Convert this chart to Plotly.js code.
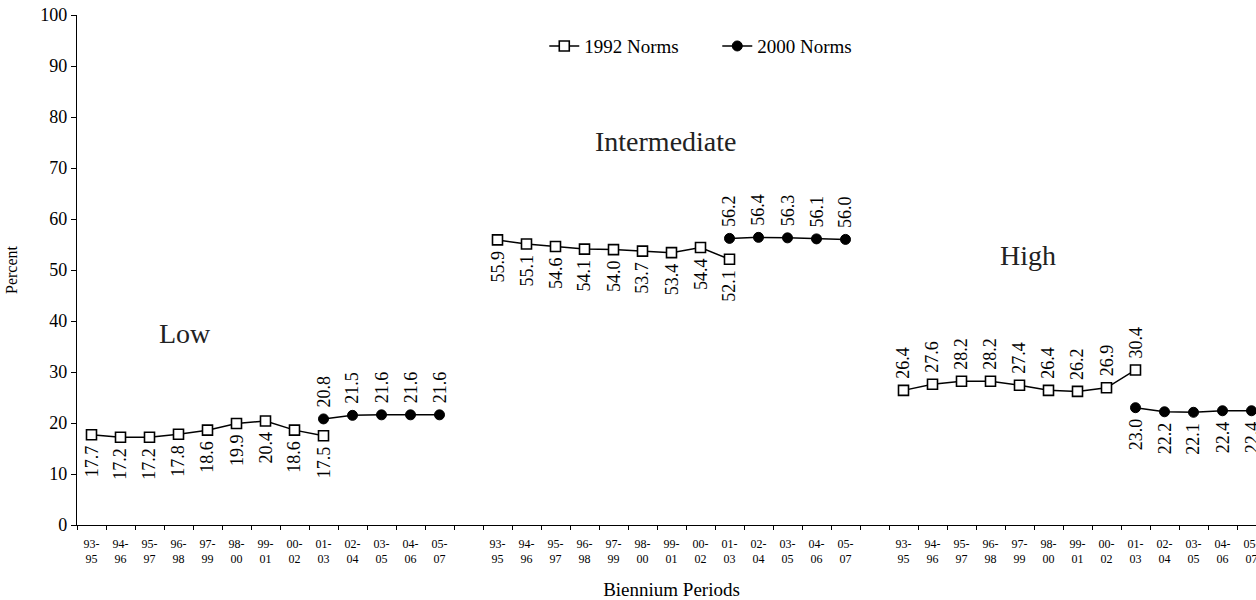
<!DOCTYPE html>
<html>
<head>
<meta charset="utf-8">
<script src="https://cdn.plot.ly/plotly-3.0.1.min.js"></script>
<style>
html, body { margin: 0; padding: 0; overflow: hidden; background: #fff; }
#chart { width: 1275px; height: 600px; }
</style>
</head>
<body>
<div id="chart"></div>
<script>
// ---- data ----
const periods = ["93-95","94-96","95-97","96-98","97-99","98-00","99-01","00-02","01-03","02-04","03-05","04-06","05-07"];
const groups = ["Low","Intermediate","High"];
const norms1992Periods = ["93-95","94-96","95-97","96-98","97-99","98-00","99-01","00-02","01-03"];
const norms2000Periods = ["01-03","02-04","03-05","04-06","05-07"];

const low1992 = [17.7, 17.2, 17.2, 17.8, 18.6, 19.9, 20.4, 18.6, 17.5];
const low2000 = [20.8, 21.5, 21.6, 21.6, 21.6];
const inter1992 = [55.9, 55.1, 54.6, 54.1, 54.0, 53.7, 53.4, 54.4, 52.1];
const inter2000 = [56.2, 56.4, 56.3, 56.1, 56.0];
const high1992 = [26.4, 27.6, 28.2, 28.2, 27.4, 26.4, 26.2, 26.9, 30.4];
const high2000 = [23.0, 22.2, 22.1, 22.4, 22.4];

// label placement per group: true = above the point
const above1992 = [false, false, true];
const above2000 = [true, true, false];

const series1992 = [low1992, inter1992, high1992];
const series2000 = [low2000, inter2000, high2000];

// ---- build category axis ----
const categories = [];
const tickText = [];
groups.forEach((g, gi) => {
  periods.forEach(p => {
    categories.push(g + " " + p);
    tickText.push(p.replace("-", "-<br>"));
  });
  if (gi < groups.length - 1) {
    categories.push("gap " + gi);
    tickText.push("");
  }
});

const y1992 = categories.map(() => null);
const y2000 = categories.map(() => null);
const annotations = [];
const FONT = 'Liberation Serif, Times New Roman, serif';
const LABEL_SHIFT = 10;

function addLabel(c, v, above) {
  annotations.push({
    x: c, y: v, xref: 'x', yref: 'y', text: v.toFixed(1), showarrow: false,
    textangle: -90, xanchor: 'center', yanchor: above ? 'bottom' : 'top',
    yshift: above ? LABEL_SHIFT : -LABEL_SHIFT, borderpad: 0,
    font: {family: FONT, size: 18, color: '#000'}
  });
}

groups.forEach((g, gi) => {
  norms1992Periods.forEach((p, i) => {
    const c = g + " " + p;
    const v = series1992[gi][i];
    y1992[categories.indexOf(c)] = v;
    addLabel(c, v, above1992[gi]);
  });
  norms2000Periods.forEach((p, i) => {
    const c = g + " " + p;
    const v = series2000[gi][i];
    y2000[categories.indexOf(c)] = v;
    addLabel(c, v, above2000[gi]);
  });
});

// group titles
const groupLabelPos = [
  {text: "Low", x: 3.23, y: 37.6},
  {text: "Intermediate", x: 19.78, y: 75.1},
  {text: "High", x: 32.3, y: 52.9}
];
groupLabelPos.forEach(gl => {
  annotations.push({
    x: gl.x, y: gl.y, xref: 'x', yref: 'y', text: gl.text, showarrow: false,
    xanchor: 'center', yanchor: 'middle', font: {family: FONT, size: 28, color: '#222'}
  });
});

const traces = [
  {
    name: "1992 Norms", x: categories, y: y1992, type: 'scatter', mode: 'lines+markers',
    connectgaps: false, cliponaxis: false,
    line: {color: '#000', width: 1.5},
    marker: {symbol: 'square', size: 10, color: '#fff', line: {color: '#000', width: 1.6}}
  },
  {
    name: "2000 Norms", x: categories, y: y2000, type: 'scatter', mode: 'lines+markers',
    connectgaps: false, cliponaxis: false,
    line: {color: '#000', width: 1.5},
    marker: {symbol: 'circle', size: 10, color: '#000', line: {color: '#000', width: 1}}
  }
];

const layout = {
  width: 1275, height: 600,
  margin: {l: 77, r: 9, t: 15, b: 75},
  paper_bgcolor: '#fff', plot_bgcolor: '#fff',
  font: {family: FONT, color: '#000'},
  showlegend: true,
  legend: {
    orientation: 'h', x: 0.393, xanchor: 'left', y: 0.939, yanchor: 'middle',
    entrywidth: 128, entrywidthmode: 'pixels',
    font: {family: FONT, size: 19, color: '#000'}, bgcolor: 'rgba(0,0,0,0)'
  },
  xaxis: {
    type: 'category', categoryorder: 'array', categoryarray: categories,
    tickmode: 'array', tickvals: categories, ticktext: tickText,
    tickson: 'boundaries', ticks: 'outside', ticklen: 4, tickwidth: 1, tickcolor: '#000',
    showline: true, linecolor: '#000', linewidth: 1.2, showgrid: false, zeroline: false,
    tickfont: {family: FONT, size: 12, color: '#000'}, tickangle: 0, ticklabelstandoff: 7,
    range: [-0.5, categories.length - 0.5], automargin: false,
    title: {text: "Biennium Periods", font: {family: FONT, size: 19, color: '#000'}, standoff: 18}
  },
  yaxis: {
    range: [0, 100], tickmode: 'linear', tick0: 0, dtick: 10,
    ticks: 'outside', ticklen: 5, tickwidth: 1, tickcolor: '#000',
    showline: true, linecolor: '#000', linewidth: 1.2, showgrid: false, zeroline: false,
    tickfont: {family: FONT, size: 18, color: '#000'}, automargin: false,
    title: {text: "Percent", font: {family: FONT, size: 16, color: '#000'}, standoff: 18}
  },
  annotations: annotations
};

Plotly.newPlot('chart', traces, layout, {displayModeBar: false, staticPlot: true});
</script>
</body>
</html>
